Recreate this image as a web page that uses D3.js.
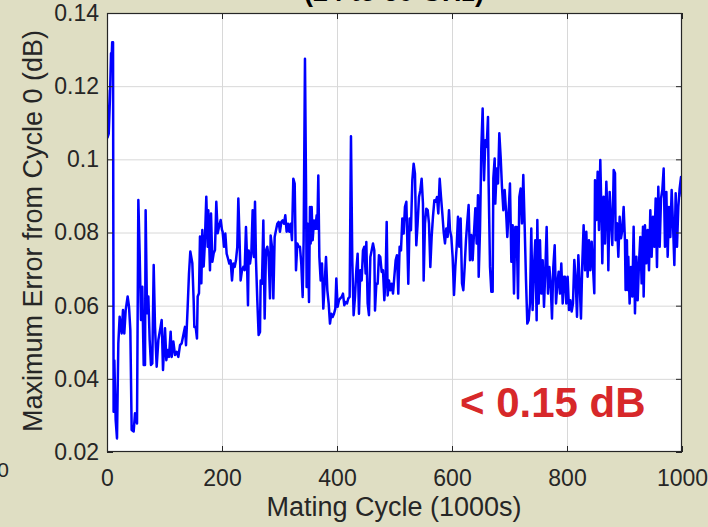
<!DOCTYPE html>
<html>
<head>
<meta charset="utf-8">
<script src="https://cdn.jsdelivr.net/npm/d3@7"></script>
<style>
html, body { margin: 0; padding: 0; background: #dfdec3; }
svg { display: block; font-family: "Liberation Sans", Arial, sans-serif; }
</style>
</head>
<body>
<svg width="708" height="527"></svg>
<script>
// mating cycle (1000s) and max error (dB)
var cycles = [
  0, 1, 3, 5, 7, 8, 9, 10.5, 11.5, 12.8,
  15.1, 17.4, 19.7, 22, 25.5, 27.8, 30.1, 32.5, 35.9, 38.3,
  40.6, 42.9, 46.4, 48.7, 52.2, 54.5, 56.8, 59.1, 61.4, 63.8,
  66.1, 67.2, 69.6, 71.9, 74.2, 76.5, 78.8, 81.2, 83.5, 86.4,
  89.3, 92.2, 95.1, 97.4, 100.9, 103.2, 105.5, 107.8, 110.7, 112.5,
  115.4, 118.3, 121.2, 124.1, 127, 129.9, 133.3, 135.6, 137.4, 140.3,
  142.6, 144.9, 148.4, 150.7, 151.9, 154.2, 156.5, 157.7, 160, 161.7,
  164.1, 165.8, 168.1, 169.9, 172.7, 175.1, 176.2, 179.1, 180.9, 183.2,
  185.5, 187.8, 190.1, 192.5, 194.8, 197.7, 200,
  201.1, 203.5, 205.8, 208.1, 210.4, 212.7, 215, 217.4, 219.7, 222,
  224.3, 226.6, 228.4, 230.1, 232.4, 234.8, 237.1, 239.4, 241.7, 242.9,
  245.2, 246.4, 248.7, 251, 253.3, 255.6, 257.4, 259.1, 261.4, 263.7,
  266.1, 267.2, 269.5, 271.9, 274.2, 276.5, 278.8, 281.1, 283.5, 284.6,
  286.9, 289.3, 291.6, 293.9, 296.2, 298.5, 300.8, 303.2, 305.5, 307.8,
  310.1, 312.4, 314.8, 317.1, 319.4, 321.7, 324, 326.4, 328.7, 331,
  333.3, 335.6, 337.9, 340.3, 342, 344.3, 346.1, 347.2, 349, 351.3,
  353, 354.2, 355.9, 357.7, 360, 362.3, 364.6, 365.8, 367.5, 369.3,
  371.6, 373.9, 376.2, 378.5, 380.9, 383.2, 385.5, 387.8, 390.1, 392.4,
  394.8, 397.1,
  398.8, 401.1, 403.5, 405.8, 408.1, 410.4, 412.7, 415, 417.4, 419.7,
  422, 424.3, 426.6, 428.9, 431.3, 433.6, 435.9, 438.2, 440.6, 442.9,
  445.2, 447.5, 449.8, 451, 453.3, 455.6, 458, 460.3, 462.6, 464.9,
  466.1, 468.4, 470.7, 473, 475.3, 477.7, 480, 482.3, 484.6, 486.4,
  488.1, 490.4, 492.7, 495, 497.4, 499.7, 502, 504.3, 506.6, 508.9,
  511.3, 513.6, 515.9, 518.2, 520.6, 521.7, 524, 526.3, 528.6, 531,
  533.3, 535.6, 537.9, 540.2, 542.6, 544.9, 547.2, 549.5, 550.7, 553,
  555.3, 557.7, 560, 562.3, 564.6, 566.9, 569.3, 571.6, 573.9, 576.2,
  578.6, 580.9, 583.2, 585.5, 587.8, 590.1, 592.4, 594.8,
  596.5, 598.8, 601.1, 603.5, 605.8, 608.1, 610.4, 612.7, 615, 617.4,
  619.7, 622, 624.3, 626.6, 628.9, 631.3, 633.6, 635.9, 638.2, 640.6,
  642.9, 645.2, 646.4, 648.7, 651, 653.3, 655.7, 658, 660.3, 662.6,
  663.7, 666.1, 668.4, 670.7, 671.9, 674.2, 675.3, 677.7, 680, 682.3,
  684.6, 686.9, 689.3, 691.6, 693.9, 696.2, 698.5, 700.8, 703.2, 705.5,
  707.8, 710.1, 712.4, 714.8, 717.1, 719.4, 721.7, 724, 726.4, 728.7,
  731, 733.3, 735.6, 737.9, 740.2, 742.6, 744.9, 747.2, 748.4, 750.7,
  753, 755.3, 757.7, 760, 762.3, 764.6, 766.9, 769.3, 771.6, 773.9,
  776.2, 778.6, 780.9, 783.2, 785.5, 787.8, 790.1, 792.5, 794.8,
  796.5, 798.8, 801.1, 803.5, 805.8, 808.1, 810.4, 812.7, 815, 817.4,
  819.7, 822, 824.3, 826.6, 828.9, 831.3, 833.6, 835.9, 838.2, 840.6,
  842.9, 845.2, 847.5, 848.7, 851, 853.3, 855.6, 857.9, 860.3, 861.4,
  863.7, 866.1, 868.4, 870.7, 871.9, 874.2, 876.5, 878.8, 881.2, 883.5,
  884.6, 886.9, 889.3, 891.6, 893.9, 896.2, 898.5, 900.8, 901.9, 904.2,
  905.5, 906.6, 908.9, 911.3, 913.6, 915.9, 918.2, 920.6, 922.9, 925.2,
  927.5, 929.8, 932.2, 933.3, 935.6, 937.9, 940.2, 942.6, 944.9, 947.2,
  949.5, 951.9, 954.2, 956.5, 958.8, 961.2, 963.5, 965.8, 968.1, 970.4,
  972.8, 975.1, 977.4, 979.7, 982, 984.3, 986.7, 989, 991.3, 993.6,
  995.9, 998.3, 1000
];

var errors = [
  0.119, 0.106, 0.107, 0.116, 0.129, 0.127, 0.132, 0.132, 0.031, 0.045,
  0.0287, 0.0237, 0.0497, 0.057, 0.0524, 0.0588, 0.0524, 0.0588, 0.0625, 0.0597,
  0.0533, 0.026, 0.0256, 0.0306, 0.0278, 0.0889, 0.0743, 0.0561, 0.0652, 0.0438,
  0.0438, 0.0861, 0.0579, 0.0625, 0.0506, 0.0438, 0.0442, 0.0711, 0.0542, 0.0433,
  0.0506, 0.0533, 0.0561, 0.0424, 0.0538, 0.0451, 0.0479, 0.046, 0.0529, 0.046,
  0.0502, 0.0465, 0.0474, 0.046, 0.0492, 0.0497, 0.0524, 0.0542, 0.0492, 0.0597,
  0.0688, 0.0748, 0.0716, 0.0615, 0.0542, 0.0542, 0.051, 0.0625, 0.0634, 0.0789,
  0.0661, 0.0807, 0.0707, 0.0761, 0.0898, 0.0761, 0.0861, 0.0697, 0.0852, 0.072,
  0.0743, 0.0752, 0.0884, 0.0798, 0.0816, 0.0834, 0.0807,
  0.0802, 0.0761, 0.0797, 0.0742, 0.0729, 0.0715, 0.0724, 0.0669, 0.0715, 0.0706,
  0.0724, 0.0761, 0.0893, 0.0806, 0.0669, 0.0697, 0.0706, 0.0697, 0.0815, 0.0761,
  0.0601, 0.0751, 0.0715, 0.0742, 0.0861, 0.0733, 0.0884, 0.0724, 0.0615, 0.052,
  0.0528, 0.0669, 0.066, 0.0833, 0.0565, 0.0751, 0.0761, 0.0733, 0.062, 0.0792,
  0.0761, 0.062, 0.0788, 0.0806, 0.0824, 0.0829, 0.0802, 0.0829, 0.0833, 0.0824,
  0.0847, 0.0802, 0.0824, 0.0802, 0.0824, 0.0779, 0.0947, 0.0934, 0.0697, 0.077,
  0.0761, 0.0761, 0.0715, 0.0624, 0.0779, 0.1275, 0.0934, 0.0651, 0.0824, 0.061,
  0.087, 0.077, 0.087, 0.0779, 0.0833, 0.081, 0.0847, 0.081, 0.0956, 0.0733,
  0.0669, 0.0715, 0.0592, 0.066, 0.0733, 0.0642, 0.0606, 0.0551, 0.0578, 0.0569,
  0.0578, 0.0592,
  0.0674, 0.0597, 0.0615, 0.062, 0.0624, 0.0633, 0.0601, 0.061, 0.0606, 0.062,
  0.0624, 0.1063, 0.0724, 0.0574, 0.0624, 0.0697, 0.0742, 0.0578, 0.0697, 0.0669,
  0.0751, 0.0761, 0.0688, 0.0774, 0.0606, 0.0574, 0.0733, 0.0751, 0.077, 0.0751,
  0.0587, 0.066, 0.066, 0.0738, 0.0733, 0.0692, 0.0697, 0.0615, 0.0679, 0.0829,
  0.0628, 0.0669, 0.0642, 0.066, 0.0633, 0.0679, 0.0724, 0.0738, 0.0633, 0.0761,
  0.0751, 0.0838, 0.0797, 0.087, 0.0884, 0.0815, 0.066, 0.0838, 0.0806, 0.0943,
  0.0988, 0.0961, 0.0765, 0.0824, 0.0897, 0.0915, 0.0947, 0.0879, 0.0669, 0.0824,
  0.0865, 0.0861, 0.0824, 0.0706, 0.0788, 0.0843, 0.0888, 0.0884, 0.0897, 0.0852,
  0.0947, 0.0897, 0.0852, 0.0802, 0.077, 0.0811, 0.0788, 0.0861,
  0.0806, 0.0788, 0.0733, 0.0629, 0.0706, 0.0761, 0.0843, 0.0761, 0.0838, 0.0661,
  0.0642, 0.0706, 0.0779, 0.0829, 0.0875, 0.0724, 0.0793, 0.0724, 0.0797, 0.0866,
  0.077, 0.0902, 0.0679, 0.0806, 0.103, 0.1139, 0.0943, 0.1052, 0.1034, 0.1116,
  0.0934, 0.0706, 0.0638, 0.0638, 0.0948, 0.1002, 0.0879, 0.0975, 0.0934, 0.1071,
  0.1007, 0.0925, 0.0861, 0.0916, 0.0861, 0.0788, 0.0856, 0.0934, 0.072, 0.082,
  0.0633, 0.0815, 0.0815, 0.062, 0.0897, 0.092, 0.0825, 0.0957, 0.0815, 0.067,
  0.0551, 0.056, 0.0606, 0.0811, 0.0588, 0.0706, 0.0779, 0.056, 0.0834, 0.0606,
  0.0779, 0.0633, 0.0724, 0.0597, 0.0697, 0.0815, 0.0633, 0.0706, 0.0661, 0.0565,
  0.0706, 0.0765, 0.0606, 0.0661, 0.0693, 0.0633, 0.0715, 0.0606, 0.0679,
  0.0679, 0.0606, 0.0679, 0.0588, 0.0615, 0.0584, 0.0606, 0.0725, 0.0675, 0.057,
  0.0738, 0.0661, 0.0565, 0.0716, 0.082, 0.0697, 0.0802, 0.0679, 0.0779, 0.0697,
  0.0775, 0.0706, 0.0634, 0.0943, 0.0834, 0.0966, 0.0807, 0.0998, 0.0825, 0.0716,
  0.0898, 0.077, 0.0939, 0.0834, 0.0697, 0.0911, 0.0834, 0.0766, 0.0971, 0.0962,
  0.0779, 0.0825, 0.0734, 0.0843, 0.0784, 0.0807, 0.087, 0.0779, 0.0643, 0.0779,
  0.0643, 0.0734, 0.0606, 0.0706, 0.0625, 0.0816, 0.0579, 0.0734, 0.0615, 0.0716,
  0.0788, 0.0661, 0.0816, 0.0625, 0.082, 0.0716, 0.0807, 0.0697, 0.0861, 0.0734,
  0.0843, 0.0761, 0.0893, 0.0706, 0.0925, 0.0761, 0.0893, 0.0916, 0.0975, 0.0761,
  0.0911, 0.0734, 0.087, 0.0788, 0.0916, 0.0825, 0.0711, 0.0907, 0.0761, 0.087,
  0.092, 0.0952, 0.0898
];

var xTicks = [0, 200, 400, 600, 800, 1000];
var yTicks = [0.02, 0.04, 0.06, 0.08, 0.1, 0.12, 0.14];

var svg = d3.select('svg');
// plot box edges in pixels (window.top is reserved, hence the names)
var plotLeft = 107, plotTop = 13, plotRight = 682, plotBottom = 452;
var ink = '#262626';

var x = d3.scaleLinear().domain([0, 1000]).range([plotLeft, plotRight]);
var y = d3.scaleLinear().domain([0.02, 0.14]).range([plotBottom, plotTop]);

svg.append('rect').attr('width', 708).attr('height', 527).attr('fill', '#dfdec3');
svg.append('rect')
  .attr('x', plotLeft).attr('y', plotTop)
  .attr('width', plotRight - plotLeft).attr('height', plotBottom - plotTop)
  .attr('fill', '#fff');

// grid
var gx = svg.append('g')
  .attr('transform', 'translate(0,' + plotBottom + ')')
  .call(d3.axisBottom(x).tickValues(xTicks.slice(1, -1)).tickSize(-(plotBottom - plotTop)).tickFormat(''));
var gy = svg.append('g')
  .attr('transform', 'translate(' + plotLeft + ',0)')
  .call(d3.axisLeft(y).tickValues(yTicks.slice(1, -1)).tickSize(-(plotRight - plotLeft)).tickFormat(''));
[gx, gy].forEach(function(g) {
  g.select('.domain').remove();
  g.selectAll('line').attr('stroke', '#d8d8d8').attr('stroke-width', 1);
});

// the trace
svg.append('clipPath').attr('id', 'plotClip')
  .append('rect').attr('x', plotLeft).attr('y', plotTop)
  .attr('width', plotRight - plotLeft).attr('height', plotBottom - plotTop);

var points = d3.zip(cycles, errors);
var line = d3.line()
  .x(function(d) { return x(d[0]); })
  .y(function(d) { return y(d[1]); });

svg.append('path')
  .datum(points)
  .attr('clip-path', 'url(#plotClip)')
  .attr('fill', 'none')
  .attr('stroke', '#0000ff')
  .attr('stroke-width', 2.5)
  .attr('stroke-linejoin', 'round')
  .attr('d', line);

// axes, ticks pointing inward on all four sides
function fmt(d) { return String(+d.toFixed(2)); }

var xAxis = svg.append('g')
  .attr('transform', 'translate(0,' + plotBottom + ')')
  .call(d3.axisBottom(x).tickValues(xTicks).tickSize(-6).tickSizeOuter(0).tickPadding(18).tickFormat(fmt));
var yAxis = svg.append('g')
  .attr('transform', 'translate(' + plotLeft + ',0)')
  .call(d3.axisLeft(y).tickValues(yTicks).tickSize(-6).tickSizeOuter(0).tickPadding(8).tickFormat(fmt));
var xTop = svg.append('g')
  .attr('transform', 'translate(0,' + plotTop + ')')
  .call(d3.axisTop(x).tickValues(xTicks).tickSize(-6).tickSizeOuter(0).tickFormat(''));
var yRight = svg.append('g')
  .attr('transform', 'translate(' + plotRight + ',0)')
  .call(d3.axisRight(y).tickValues(yTicks).tickSize(-6).tickSizeOuter(0).tickFormat(''));

[xAxis, yAxis, xTop, yRight].forEach(function(g) {
  g.select('.domain').remove();
  g.selectAll('line').attr('stroke', ink);
  g.selectAll('text')
    .attr('fill', ink)
    .style('font-size', '23px')
    .style('font-family', '"Liberation Sans", Arial, sans-serif');
});

svg.append('rect')
  .attr('x', plotLeft + 0.5).attr('y', plotTop + 0.5)
  .attr('width', plotRight - plotLeft - 1).attr('height', plotBottom - plotTop - 1)
  .attr('fill', 'none').attr('stroke', ink).attr('stroke-width', 1.2);

// labels
svg.append('text')
  .attr('x', 394).attr('y', 516)
  .attr('text-anchor', 'middle')
  .attr('fill', ink)
  .style('font-size', '27px')
  .text('Mating Cycle (1000s)');

svg.append('text')
  .attr('transform', 'translate(42,231) rotate(-90)')
  .attr('text-anchor', 'middle')
  .attr('fill', ink)
  .style('font-size', '27px')
  .text('Maximum Error from Cycle 0 (dB)');

svg.append('text')
  .attr('x', 394).attr('y', 1)
  .attr('text-anchor', 'middle')
  .attr('fill', '#000')
  .style('font-size', '27px')
  .style('font-weight', 'bold')
  .text('(24 to 50 GHz)');

svg.append('text')
  .attr('x', 9).attr('y', 477)
  .attr('text-anchor', 'end')
  .attr('fill', ink)
  .style('font-size', '21px')
  .text('0');

svg.append('text')
  .attr('x', 460).attr('y', 417)
  .attr('fill', '#d7282a')
  .style('font-size', '42px')
  .style('font-weight', 'bold')
  .text('< 0.15 dB');
</script>
</body>
</html>
